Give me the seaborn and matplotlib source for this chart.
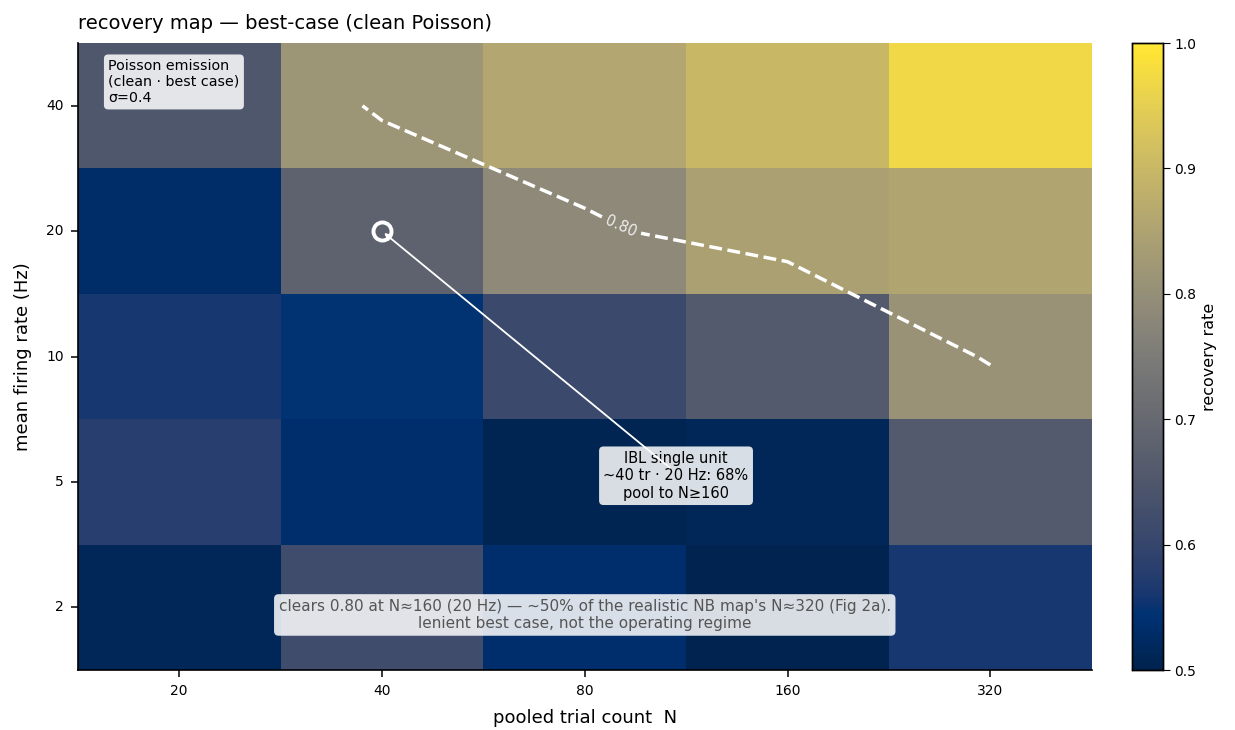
import numpy as np
import pandas as pd
import matplotlib
matplotlib.use("Agg")
import matplotlib.pyplot as plt
import seaborn as sns

# pooled trial count (columns) and mean firing rate (rows, top = highest)
trial_counts = [20, 40, 80, 160, 320]
firing_rates = [40, 20, 10, 5, 2]

# recovery rate per cell, rows follow firing_rates
rate_40 = [0.65, 0.816, 0.858, 0.90, 0.97]
rate_20 = [0.53, 0.68, 0.787, 0.845, 0.855]
rate_10 = [0.56, 0.545, 0.61, 0.66, 0.81]
rate_5 = [0.58, 0.535, 0.507, 0.512, 0.66]
rate_2 = [0.512, 0.62, 0.535, 0.503, 0.56]

threshold = 0.80
ibl_point = (40, 20)

df = pd.DataFrame([rate_40, rate_20, rate_10, rate_5, rate_2],
                  index=firing_rates, columns=trial_counts)

fig = plt.figure(figsize=(12.35, 7.3), dpi=100)
ax = fig.add_axes([0.063, 0.082, 0.821, 0.859])
cax = fig.add_axes([0.917, 0.082, 0.0243, 0.859])

sns.heatmap(df, ax=ax, cbar_ax=cax, cmap="cividis", vmin=0.5, vmax=1.0,
            cbar_kws={"label": "recovery rate"})

for side in ["left", "bottom"]:
    ax.spines[side].set_visible(True)
    ax.spines[side].set_color("black")
    ax.spines[side].set_linewidth(1.2)
ax.tick_params(axis="both", labelsize=10, length=5, width=1.1, pad=5)
ax.set_yticklabels(firing_rates, rotation=0)
ax.set_xticklabels(trial_counts, rotation=0)
ax.set_xlabel("pooled trial count  N", fontsize=13, labelpad=8)
ax.set_ylabel("mean firing rate (Hz)", fontsize=13, labelpad=10)
ax.set_title("recovery map — best-case (clean Poisson)", loc="left",
             fontsize=14, pad=10)

cax.tick_params(labelsize=10, length=5)
cax.yaxis.label.set_size(11.5)
for s in cax.spines.values():
    s.set_visible(True)
    s.set_linewidth(1)

# 0.80 contour through cell centres
xc = np.arange(len(trial_counts)) + 0.5
yc = np.arange(len(firing_rates)) + 0.5
cs = ax.contour(xc, yc, df.values, levels=[threshold], colors="white",
                linestyles="--", linewidths=2.5)
ax.clabel(cs, fmt="%.2f", fontsize=10.5, colors="#eeeeee",
          manual=[(2.67, 1.49)], inline=True)

# IBL single-unit marker
px = trial_counts.index(ibl_point[0]) + 0.5
py = firing_rates.index(ibl_point[1]) + 0.5
ax.plot(px, py, "o", ms=13, mfc="none", mec="white", mew=2.8, zorder=5)

box = dict(boxstyle="round,pad=0.3", fc="white", ec="none", alpha=0.85)
ax.text(2.95, 3.45, "IBL single unit\n~40 tr · 20 Hz: 68%\npool to N≥160",
        ha="center", va="center", fontsize=10.5, bbox=box, zorder=4)
ax.annotate("", xy=(px, py), xytext=(2.93, 3.4),
            arrowprops=dict(arrowstyle="->", color="white", lw=1.3), zorder=6)

ax.text(0.03, 0.975, "Poisson emission\n(clean · best case)\nσ=0.4",
        transform=ax.transAxes, ha="left", va="top", fontsize=10.3, bbox=box)

ax.text(0.5, 0.088,
        "clears 0.80 at N≈160 (20 Hz) — ~50% of the realistic NB map's N≈320 (Fig 2a).\n"
        "lenient best case, not the operating regime",
        transform=ax.transAxes, ha="center", va="center", fontsize=11,
        color="#555555", bbox=box)

fig.savefig("out.png", dpi=100)
